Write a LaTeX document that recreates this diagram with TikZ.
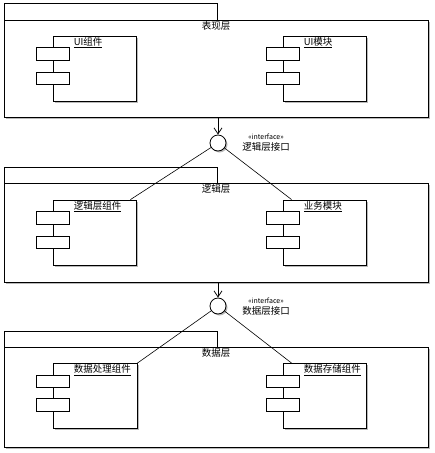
\documentclass[tikz,border=0pt]{standalone}
\usepackage{fontspec}
\setmainfont{Noto Sans CJK SC}
\usepackage{tikz}
\usetikzlibrary{arrows.meta}
\usetikzlibrary{shadows}
\tikzstyle{grayshadow} = [drop shadow={shadow xshift=1.5pt, shadow yshift=-1.5pt, fill=gray!55, opacity=1}]
\tikzstyle{pkgtab} = [draw, fill=white, line width=0.8pt, inner sep=0pt, minimum width=213pt, minimum height=17pt]
\tikzstyle{pkgbody} = [draw, fill=white, line width=0.8pt, inner sep=0pt, minimum width=424pt, grayshadow]
\tikzstyle{comp} = [draw, fill=white, line width=0.8pt, inner sep=0pt, minimum width=83pt, minimum height=65pt, grayshadow]
\tikzstyle{port} = [draw, fill=white, line width=0.8pt, inner sep=0pt, minimum width=33pt, minimum height=12.5pt]
\tikzstyle{iface} = [draw, circle, fill=white, line width=0.8pt, inner sep=0pt, minimum size=16pt, grayshadow]
\tikzstyle{dep} = [draw, line width=0.8pt, -{Straight Barb[length=6pt, width=8pt]}]
\tikzstyle{link} = [draw, line width=0.6pt]

\begin{document}
\begin{tikzpicture}[x=1pt, y=-1pt]
	\tikzstyle{every node}=[font=\fontsize{9.5}{11}\selectfont]
	\useasboundingbox[fill=white] (0,0) rectangle (435,453);
	
	% ------------------- 表现层 ------------------- %
	\node[pkgtab] (presTab) at (110.5,11.5) {};
	\node[pkgbody, minimum height=97pt] (pres) at (216,68.5) {};
	\node[anchor=north, inner sep=1pt] (presTitle) at (216,20) {表现层};
	
	\node[comp] (uiComp) at (94.5,68.5) {};
	\node[port] (uiCompA) at ([xshift=0.5pt,yshift=-18.5pt]uiComp.north west) {};
	\node[port] (uiCompB) at ([xshift=0.5pt,yshift=-43pt]uiComp.north west) {};
	\node[anchor=west, inner sep=1pt] (uiCompLbl) at ([xshift=20pt,yshift=-7pt]uiComp.north west) {\underline{UI组件}};
	
	\node[comp] (uiMod) at (324.5,68.5) {};
	\node[port] (uiModA) at ([xshift=0.5pt,yshift=-18.5pt]uiMod.north west) {};
	\node[port] (uiModB) at ([xshift=0.5pt,yshift=-43pt]uiMod.north west) {};
	\node[anchor=west, inner sep=1pt] (uiModLbl) at ([xshift=20pt,yshift=-7pt]uiMod.north west) {\underline{UI模块}};
	
	% ------------------- 逻辑层接口 ------------------- %
	\node[iface] (ifLogic) at (218,143) {};
	\node[align=center, inner sep=0pt] (ifLogicLbl) at (266,142.5) {{\fontsize{7}{8}\selectfont «interface»}\\逻辑层接口};
	\draw[dep] (pres.south -| ifLogic) -- (ifLogic.north);
	
	% ------------------- 逻辑层 ------------------- %
	\node[pkgtab] (logicTab) at (110.5,175.5) {};
	\node[pkgbody, minimum height=99pt] (logic) at (216,232.5) {};
	\node[anchor=north, inner sep=1pt] (logicTitle) at (216,183) {逻辑层};
	
	\node[comp] (logicComp) at (94.5,232.5) {};
	\node[port] (logicCompA) at ([xshift=0.5pt,yshift=-18.5pt]logicComp.north west) {};
	\node[port] (logicCompB) at ([xshift=0.5pt,yshift=-43pt]logicComp.north west) {};
	\node[anchor=west, inner sep=1pt] (logicCompLbl) at ([xshift=20pt,yshift=-7pt]logicComp.north west) {\underline{逻辑层组件}};
	
	\node[comp] (bizMod) at (324.5,232.5) {};
	\node[port] (bizModA) at ([xshift=0.5pt,yshift=-18.5pt]bizMod.north west) {};
	\node[port] (bizModB) at ([xshift=0.5pt,yshift=-43pt]bizMod.north west) {};
	\node[anchor=west, inner sep=1pt] (bizModLbl) at ([xshift=20pt,yshift=-7pt]bizMod.north west) {\underline{业务模块}};
	
	\draw[link] (ifLogic) -- ([xshift=-6pt]logicComp.north east);
	\draw[link] (ifLogic) -- ([xshift=9pt]bizMod.north west);
	
	% ------------------- 数据层接口 ------------------- %
	\node[iface] (ifData) at (218,306) {};
	\node[align=center, inner sep=0pt] (ifDataLbl) at (266,307) {{\fontsize{7}{8}\selectfont «interface»}\\数据层接口};
	\draw[dep] (logic.south -| ifData) -- (ifData.north);
	
	% ------------------- 数据层 ------------------- %
	\node[pkgtab] (dataTab) at (110.5,339.5) {};
	\node[pkgbody, minimum height=100pt] (data) at (216,397) {};
	\node[anchor=north, inner sep=1pt] (dataTitle) at (216,347) {数据层};
	
	\node[comp, minimum width=84pt] (procComp) at (95,396) {};
	\node[port] (procCompA) at ([xshift=0.5pt,yshift=-18.5pt]procComp.north west) {};
	\node[port] (procCompB) at ([xshift=0.5pt,yshift=-42pt]procComp.north west) {};
	\node[anchor=west, inner sep=1pt] (procCompLbl) at ([xshift=20pt,yshift=-7pt]procComp.north west) {\underline{数据处理组件}};
	
	\node[comp] (storeComp) at (324.5,396) {};
	\node[port] (storeCompA) at ([xshift=0.5pt,yshift=-18.5pt]storeComp.north west) {};
	\node[port] (storeCompB) at ([xshift=0.5pt,yshift=-42pt]storeComp.north west) {};
	\node[anchor=west, inner sep=1pt] (storeCompLbl) at ([xshift=20pt,yshift=-7pt]storeComp.north west) {\underline{数据存储组件}};
	
	\draw[link] (ifData) -- (procComp.north east);
	\draw[link] (ifData) -- ([xshift=9pt]storeComp.north west);
\end{tikzpicture}
\end{document}
